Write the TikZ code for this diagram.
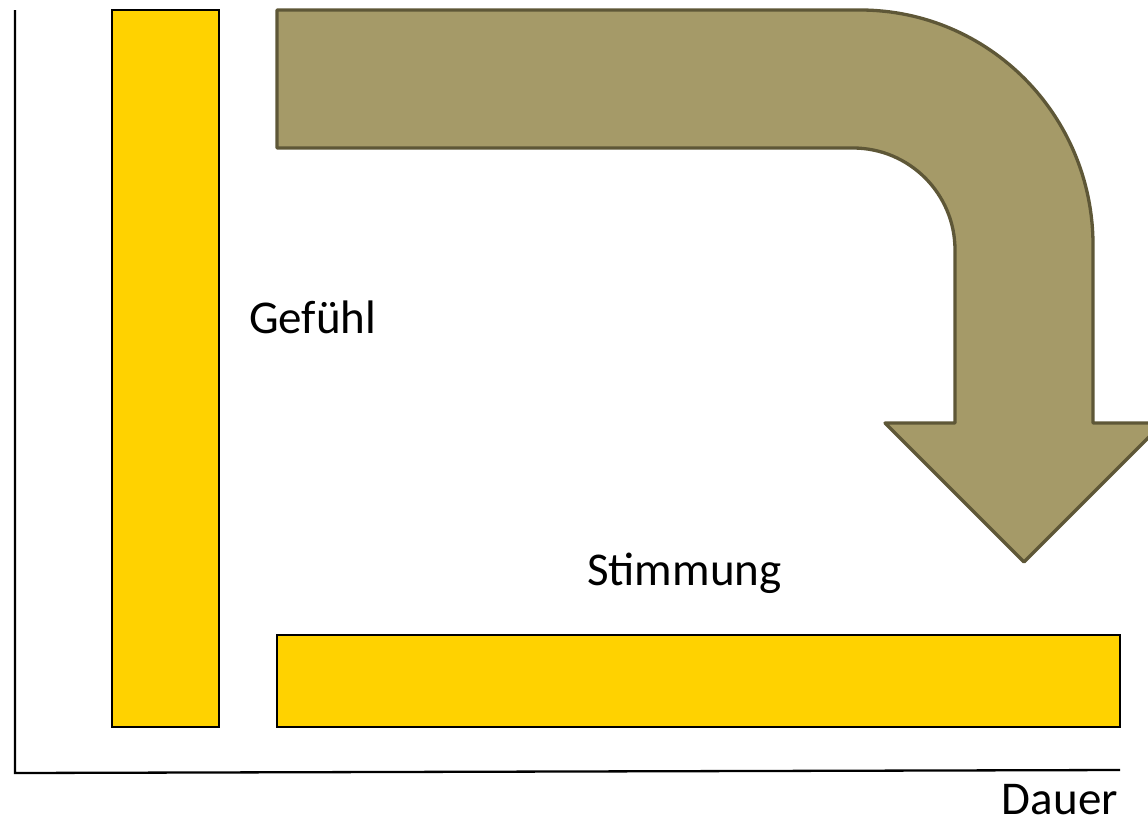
\documentclass[tikz,border=0pt]{standalone}
\usepackage{fontspec}
\setmainfont{Carlito}
\definecolor{barfill}{HTML}{FFD200}
\definecolor{arrowfill}{HTML}{A59A68}
\definecolor{arrowline}{HTML}{5E5737}
\tikzset{
  bar/.style={draw=black, line width=2.5pt, fill=barfill, inner sep=0pt, outer sep=0pt},
  axisline/.style={draw=black, line width=2.3pt},
  lbl/.style={font=\fontsize{47}{54}\selectfont, inner sep=0pt, text depth=0pt},
  bigarrow/.style={draw=arrowline, fill=arrowfill, line width=3.3pt, line join=round}
}
\begin{document}
\begin{tikzpicture}[x=1pt,y=-1pt]
\useasboundingbox (0,0) rectangle (1148,822);
\clip (0,0) rectangle (1148,822);
% axes
\coordinate (top) at (15,10);
\coordinate (origin) at (15,773);
\coordinate (xend) at (1120,770);
\draw[axisline] (top) -- (origin) -- (xend);
% bars
\node[bar, anchor=north west, minimum width=107pt, minimum height=717pt] (gbar) at (112,10) {};
\node[bar, anchor=north west, minimum width=843pt, minimum height=92pt] (sbar) at (277,635) {};
% arrow
\draw[bigarrow] (277,10) -- (860,10) .. controls (988.7,10) and (1093,115.2) .. (1093,245)
  -- (1093,423) -- (1163,423) -- (1024,562) -- (885,423) -- (955,423) -- (955,250)
  .. controls (955,193.7) and (909.3,148) .. (853,148) -- (277,148) -- cycle;
% labels
\node[lbl, anchor=base west] (gefuehl) at (249,333) {Gefühl};
\node[lbl, anchor=base west] (stimmung) at (587,585) {Stimmung};
\node[lbl, anchor=base east] (dauer) at (1118,814) {Dauer};
\end{tikzpicture}
\end{document}
